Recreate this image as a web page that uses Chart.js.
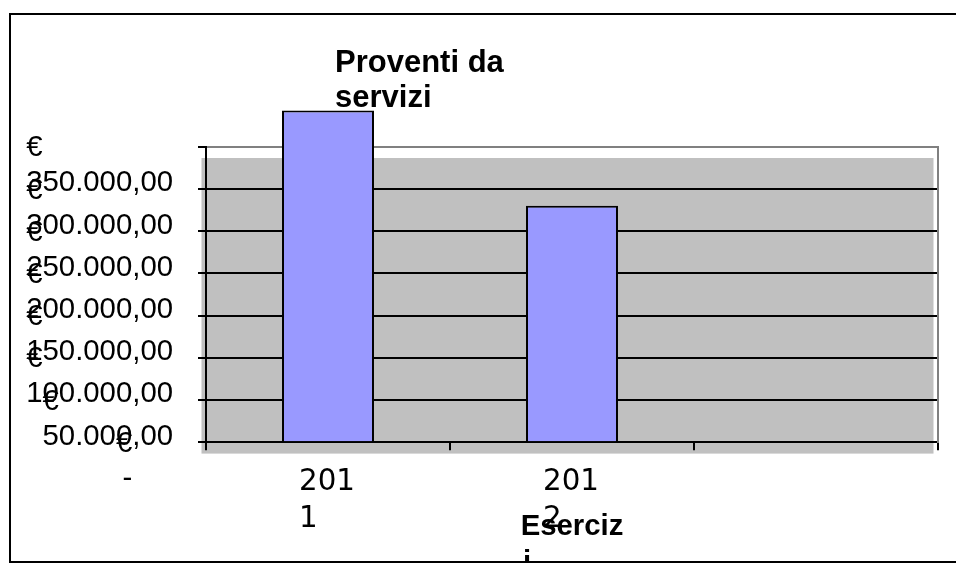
<!DOCTYPE html>
<html>
<head>
<meta charset="utf-8">
<script src="https://cdn.jsdelivr.net/npm/chart.js@4.4.1/dist/chart.umd.min.js"></script>
<style>
  html, body { margin: 0; padding: 0; background: #ffffff; width: 956px; height: 565px; overflow: hidden; }
  #frame { position: absolute; left: 9px; top: 13px; width: 945px; height: 546px;
           border: 2px solid #000000; border-right: none; overflow: hidden; }
  canvas { display: block; }
</style>
</head>
<body>
<div id="frame"><canvas id="chart" width="945" height="566"></canvas></div>
<script>
// ---- data ----
const categories = ['2011', '2012', ''];
const proventi = [393000, 280100, null];
const yTickValues = [0, 50000, 100000, 150000, 200000, 250000, 300000, 350000];
const yTickLabels = ['€ -', '€ 50.000,00', '€ 100.000,00', '€ 150.000,00',
                     '€ 200.000,00', '€ 250.000,00', '€ 300.000,00', '€ 350.000,00'];
const chartTitle = ['Proventi da', 'servizi'];
const xAxisTitle = ['Eserciz', 'i'];

// ---- helpers ----
const NB = '\u00A0';
const SANS = '"Liberation Sans", Arial, sans-serif';
const mctx = document.createElement('canvas').getContext('2d');
function textW(t, font) { mctx.font = font; return mctx.measureText(t).width; }

// wraps "€ 350.000,00" into two lines whose starts line up (lines are right-aligned by the axis)
function wrapY(label) {
  if (label === undefined) return '';
  const font = '29.33px ' + SANS;
  const i = label.indexOf(' ');
  const head = label.slice(0, i);
  let rest = label.slice(i + 1);
  let k;
  if (rest === '-') { rest = '-' + NB.repeat(5); k = 5; }
  else { k = Math.round((textW(rest, font) - textW(head, font)) / textW(NB, font)); }
  return [head + NB.repeat(Math.max(0, k)), rest];
}
function wrapX(s) { return s.length > 3 ? [s.slice(0, 3), s.slice(3)] : s; }
function leftAlignLines(lines, font) {
  const w0 = textW(lines[0], font);
  return lines.map((l, i) => i === 0 ? l : l + NB.repeat(Math.max(0, Math.floor((w0 - textW(l, font)) / textW(NB, font)))));
}

const plotShadow = {
  id: 'plotShadow',
  beforeDraw(chart) {
    const { ctx, chartArea: a } = chart;
    ctx.save();
    ctx.fillStyle = '#C0C0C0';
    ctx.fillRect(a.left - 4.5, a.top + 11.3, a.right - a.left, a.bottom - a.top);
    ctx.restore();
  }
};
const titlePlacement = {
  id: 'titlePlacement',
  afterLayout(chart) {
    const t = chart.titleBlock;
    if (!t) return;
    const w = t.right - t.left;
    t.left = chart.chartArea.left + 129;
    t.right = t.left + w;
  }
};

const CANVAS_H = 566;
const AREA_BOTTOM = 427.3;

new Chart(document.getElementById('chart'), {
  type: 'bar',
  data: {
    labels: categories,
    datasets: [{
      label: 'Proventi da servizi',
      data: proventi,
      backgroundColor: '#9999FF',
      borderColor: '#000000',
      borderWidth: 2,
      barPercentage: 0.377,
      categoryPercentage: 1,
      clip: false
    }]
  },
  options: {
    responsive: false,
    animation: false,
    devicePixelRatio: 1,
    layout: { padding: { left: 0, right: 18, top: 0, bottom: 0 } },
    plugins: {
      legend: { display: false },
      tooltip: { enabled: false },
      title: {
        display: true,
        text: chartTitle,
        align: 'start',
        color: '#000000',
        font: { family: SANS, size: 31, weight: 'bold', lineHeight: '35px' },
        padding: { top: 31, bottom: 30.7 }
      }
    },
    scales: {
      x: {
        offset: true,
        afterFit: s => { s.height = CANVAS_H - AREA_BOTTOM; },
        grid: { offset: true, drawOnChartArea: false, drawTicks: true, tickLength: 8, color: '#000000', lineWidth: 2 },
        border: { display: true, color: '#000000', width: 2 },
        ticks: {
          autoSkip: false, maxRotation: 0, minRotation: 0,
          align: 'start', labelOffset: -29, padding: 14, color: '#000000',
          font: { family: '"DejaVu Sans", Verdana, sans-serif', size: 29.33, lineHeight: '36.5px' },
          callback: (v, i) => wrapX(categories[i])
        },
        title: {
          display: true,
          text: leftAlignLines(xAxisTitle, 'bold 29.33px ' + SANS),
          align: 'center',
          color: '#000000',
          font: { family: SANS, size: 29.33, weight: 'bold', lineHeight: '36px' },
          padding: 0
        }
      },
      y: {
        min: yTickValues[0],
        max: yTickValues[yTickValues.length - 1],
        afterFit: s => { s.width = 195; },
        ticks: {
          stepSize: yTickValues[1] - yTickValues[0],
          autoSkip: false,
          padding: 25,
          labelOffset: 19,
          color: '#000000',
          font: { family: SANS, size: 29.33, lineHeight: '35px' },
          callback: v => wrapY(yTickLabels[yTickValues.indexOf(v)])
        },
        grid: {
          color: c => (c.tick && c.tick.value === yTickValues[yTickValues.length - 1]) ? '#808080' : '#000000',
          tickColor: '#000000',
          lineWidth: 2, tickLength: 8, drawTicks: true
        },
        border: { display: true, color: '#000000', width: 2 }
      },
      y2: {
        position: 'right',
        display: true,
        afterFit: s => { s.width = 0; },
        grid: { display: false, drawTicks: false },
        ticks: { display: false },
        border: { display: true, color: '#808080', width: 2 }
      }
    }
  },
  plugins: [plotShadow, titlePlacement]
});
</script>
</body>
</html>
